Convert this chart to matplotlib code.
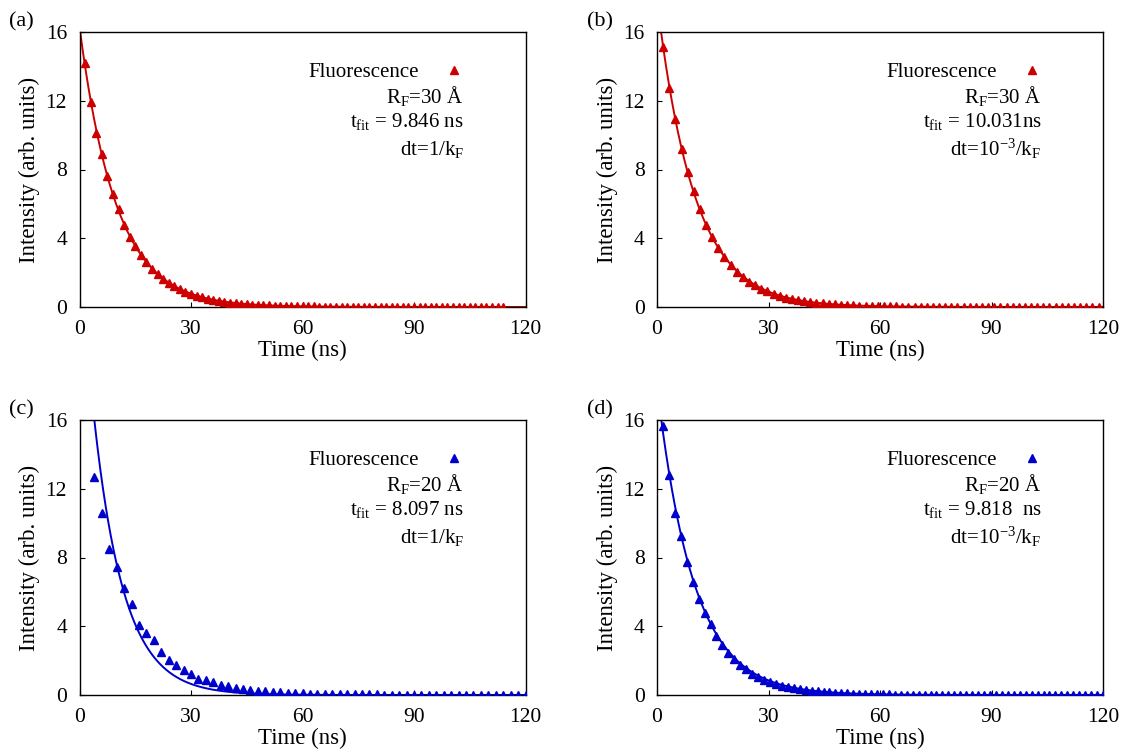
import numpy as np
import matplotlib.pyplot as plt

plt.rcParams['font.family'] = ['Liberation Serif', 'DejaVu Serif']
plt.rcParams['mathtext.fontset'] = 'custom'
plt.rcParams['mathtext.rm'] = 'Liberation Serif'
plt.rcParams['mathtext.it'] = 'Liberation Serif:italic'
plt.rcParams['font.size'] = 15

RED = '#cc0000'
BLUE = '#0000cc'

# sampled fluorescence decay for each run (arb. units)
t_a = 1.5 * np.arange(1, 77)
fluor_a = [14.2, 11.9, 10.1, 8.9, 7.6, 6.55, 5.7, 4.8, 4.1, 3.55,
           3.05, 2.6, 2.2, 1.9, 1.62, 1.4, 1.2, 1.02, 0.88, 0.76,
           0.65, 0.56, 0.48, 0.41, 0.35, 0.30, 0.26, 0.22, 0.19, 0.16,
           0.14, 0.12, 0.10, 0.09, 0.08, 0.07, 0.06, 0.05, 0.04, 0.04,
           0.03, 0.03, 0.02, 0.02, 0.02, 0.02, 0.01, 0.01, 0.01, 0.01,
           0.01, 0.01, 0.01, 0.01, 0.0, 0.0, 0.0, 0.0, 0.0, 0.0,
           0.0, 0.0, 0.0, 0.0, 0.0, 0.0, 0.0, 0.0, 0.0, 0.0,
           0.0, 0.0, 0.0, 0.0, 0.0, 0.0]

t_b = 1.65 * np.arange(1, 73)
fluor_b = [15.15, 12.76, 10.92, 9.19, 7.84, 6.75, 5.7, 4.75, 4.07, 3.42,
           2.93, 2.42, 2.04, 1.75, 1.48, 1.26, 1.07, 0.91, 0.77, 0.65,
           0.55, 0.47, 0.40, 0.34, 0.29, 0.24, 0.21, 0.18, 0.15, 0.13,
           0.11, 0.09, 0.08, 0.07, 0.06, 0.05, 0.04, 0.03, 0.03, 0.02,
           0.02, 0.02, 0.02, 0.02, 0.01, 0.01, 0.01, 0.01, 0.01, 0.01,
           0.01, 0.01, 0.0, 0.0, 0.0, 0.0, 0.0, 0.0, 0.0, 0.0,
           0.0, 0.0, 0.0, 0.0, 0.0, 0.0, 0.0, 0.0, 0.0, 0.0,
           0.0, 0.0]

t_c = np.arange(4, 121, 2)
fluor_c = [12.7, 10.6, 8.5, 7.45, 6.25, 5.3, 4.1, 3.6, 3.2, 2.5,
           2.05, 1.75, 1.45, 1.2, 0.93, 0.87, 0.73, 0.57, 0.52, 0.42,
           0.35, 0.28, 0.24, 0.21, 0.18, 0.15, 0.13, 0.11, 0.10, 0.08,
           0.07, 0.06, 0.05, 0.05, 0.04, 0.04, 0.03, 0.03, 0.03, 0.02,
           0.02, 0.02, 0.02, 0.01, 0.01, 0.01, 0.01, 0.01, 0.01, 0.01,
           0.01, 0.0, 0.0, 0.0, 0.0, 0.0, 0.0, 0.0, 0.0]

t_d = 1.6 * np.arange(1, 76)
fluor_d = [15.65, 12.8, 10.6, 9.25, 7.76, 6.59, 5.57, 4.75, 4.13, 3.43,
           2.91, 2.46, 2.08, 1.75, 1.5, 1.25, 1.05, 0.9, 0.77, 0.65,
           0.55, 0.47, 0.40, 0.34, 0.29, 0.24, 0.21, 0.18, 0.15, 0.13,
           0.11, 0.09, 0.08, 0.07, 0.06, 0.05, 0.04, 0.035, 0.03, 0.025,
           0.02, 0.02, 0.02, 0.02, 0.02, 0.01, 0.01, 0.01, 0.01, 0.01,
           0.01, 0.01, 0.01, 0.01, 0.01, 0.01, 0.01, 0.0, 0.0, 0.0,
           0.0, 0.0, 0.0, 0.0, 0.0, 0.0, 0.0, 0.0, 0.0, 0.0,
           0.0, 0.0, 0.0, 0.0, 0.0]

# single-exponential fits: amplitude and lifetime (ns)
amp = [16.3, 17.85, 26.2, 18.0]
t_fit = [9.846, 10.031, 8.097, 9.818]

panel_tags = ['(a)', '(b)', '(c)', '(d)']
r_f = ['30', '30', '20', '20']
tfit_text = ['9.846 ns', '10.031ns', '8.097 ns', '9.818  ns']
dt_text = ['1/k$_\\mathregular{F}$', '10$^\\mathregular{-3}$/k$_\\mathregular{F}$',
           '1/k$_\\mathregular{F}$', '10$^\\mathregular{-3}$/k$_\\mathregular{F}$']

times = [t_a, t_b, t_c, t_d]
values = [fluor_a, fluor_b, fluor_c, fluor_d]
colors = [RED, RED, BLUE, BLUE]

W, H = 1134, 756
fig = plt.figure(figsize=(W / 100, H / 100), dpi=100)

# axes boxes in pixels: left, top
boxes = [(79.5, 32), (657, 32), (79.5, 420), (657, 420)]
ax_w, ax_h = 446, 275

for i in range(4):
    left, top = boxes[i]
    ax = fig.add_axes([left / W, 1 - (top + ax_h) / H, ax_w / W, ax_h / H])
    col = colors[i]

    tt = np.linspace(0, 120, 1200)
    ax.plot(tt, amp[i] * np.exp(-tt / t_fit[i]), color=col, lw=1.4, zorder=2)
    ax.plot(times[i], values[i], ls='none', marker='^', ms=6.2,
            color=col, mec=col, zorder=3)

    ax.set_xlim(0, 120)
    ax.set_ylim(0, 16)
    ax.set_xticks([0, 30, 60, 90, 120])
    ax.set_yticks([0, 4, 8, 12, 16])
    ax.tick_params(direction='in', length=3.5, width=0.8, colors='black',
                   labelsize=15.5, top=False, right=False)
    ax.tick_params(axis='y', pad=9)
    ax.tick_params(axis='x', pad=9)
    for sp in ax.spines.values():
        sp.set_linewidth(1.0)

    ax.set_xlabel('Time (ns)', fontsize=16.5)
    ax.set_ylabel('Intensity (arb. units)', fontsize=16.5)
    ax.xaxis.set_label_coords(0.5, -0.118)
    ax.yaxis.set_label_coords(-0.088, 0.5)

    # key and run parameters
    ax.text(0.761, 0.852, 'Fluorescence', transform=ax.transAxes,
            ha='right', va='center', fontsize=15)
    ax.plot([0.84], [0.863], transform=ax.transAxes, marker='^', ms=6.2,
            color=col, ls='none', clip_on=False)
    ax.text(0.862, 0.769, 'R$_\\mathregular{F}$=' + r_f[i] + ' Å',
            transform=ax.transAxes, ha='right', va='center', fontsize=15)
    ax.text(0.862, 0.673, 't$_\\mathregular{fit}$ = ' + tfit_text[i],
            transform=ax.transAxes, ha='right', va='center', fontsize=15)
    ax.text(0.862, 0.574, 'dt=' + dt_text[i],
            transform=ax.transAxes, ha='right', va='center', fontsize=15)

    fig.text((left - 70) / W, 1 - (top - 10) / H, panel_tags[i],
             ha='left', va='center', fontsize=16)

fig.savefig('out.png', dpi=100)
